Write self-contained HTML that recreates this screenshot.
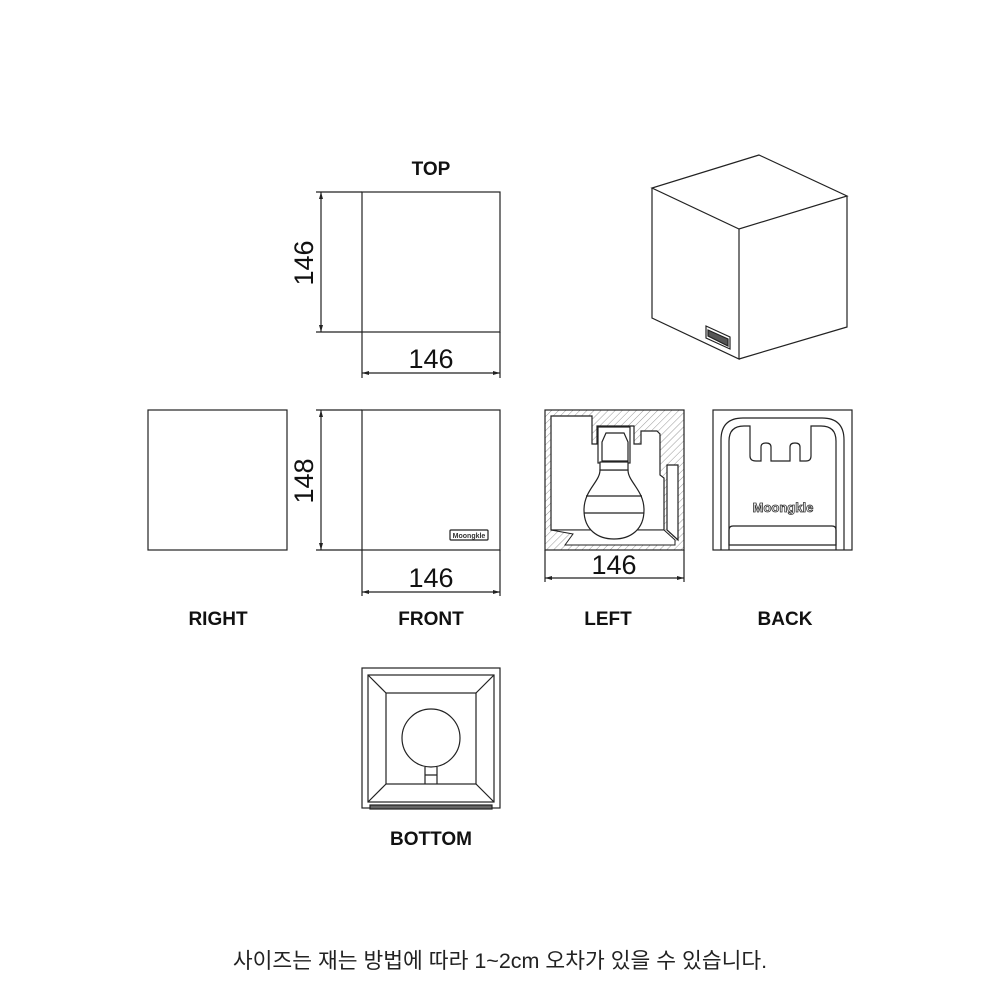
<!DOCTYPE html>
<html><head><meta charset="utf-8"><style>
html,body{margin:0;padding:0;background:#fff;}
svg{display:block;}
.l{font-family:"Liberation Sans",sans-serif;font-weight:bold;font-size:19px;fill:#111;text-anchor:middle;}
.d{font-family:"Liberation Sans",sans-serif;font-size:27px;fill:#111;text-anchor:middle;}
</style></head><body>
<svg width="1000" height="1000" viewBox="0 0 1000 1000" xmlns="http://www.w3.org/2000/svg">
<defs>
<pattern id="h" width="5" height="5" patternUnits="userSpaceOnUse" patternTransform="rotate(45)">
<line x1="0" y1="0" x2="0" y2="5" stroke="#999" stroke-width="1"/></pattern>
</defs>
<g fill="none" stroke="#222" stroke-width="1.2">
<!-- TOP -->
<rect x="362" y="192" width="138" height="140"/>
<line x1="316" y1="192" x2="362" y2="192"/><line x1="316" y1="332" x2="362" y2="332"/>
<line x1="321" y1="192" x2="321" y2="332"/>
<line x1="362" y1="332" x2="362" y2="378"/><line x1="500" y1="332" x2="500" y2="378"/>
<line x1="362" y1="373" x2="500" y2="373"/>
<!-- FRONT -->
<rect x="362" y="410" width="138" height="140"/>
<rect x="450" y="530" width="38" height="10" rx="1"/>
<line x1="316" y1="410" x2="362" y2="410"/><line x1="316" y1="550" x2="362" y2="550"/>
<line x1="321" y1="410" x2="321" y2="550"/>
<line x1="362" y1="550" x2="362" y2="596"/><line x1="500" y1="550" x2="500" y2="596"/>
<line x1="362" y1="592" x2="500" y2="592"/>
<!-- RIGHT -->
<rect x="148" y="410" width="139" height="140"/>
<!-- LEFT -->
<rect x="545" y="410" width="139" height="140" fill="url(#h)"/>
<path d="M551 416 H592 V444 H597 V426 H634 V444 H641 V431 H657 L660 434 V475 L664 478 V530 H551 Z" fill="#fff"/>
<path d="M667 465 H678 V540 L667 530 Z" fill="#fff"/>
<path d="M551 530 H664 L675 540 V545 H565 L573 534 Z" fill="#fff" stroke-width="1"/>
<rect x="598" y="427" width="32" height="36" fill="#fff"/>
<path d="M606 433 H624 L628 442 V461 H602 V442 Z"/>
<path d="M600 470 H628 C628 482 644 490 644 510 C644 530 630 539 614 539 C598 539 584 530 584 510 C584 490 600 482 600 470 Z" fill="#fff"/>
<rect x="600" y="462" width="28" height="8" fill="#fff"/>
<line x1="586" y1="496" x2="642" y2="496"/><line x1="584" y1="513" x2="644" y2="513"/>
<line x1="545" y1="550" x2="545" y2="582"/><line x1="684" y1="550" x2="684" y2="582"/>
<line x1="545" y1="578" x2="684" y2="578"/>
<!-- BACK -->
<rect x="713" y="410" width="139" height="140"/>
<path d="M721 550 V440 Q721 418 743 418 H822 Q844 418 844 440 V550"/>
<path d="M729 550 V441 Q729 426 744 426 H750 V456 Q750 461 756 461 H761 V447 Q761 443 766 443 Q771 443 771 447 V461 H790 V447 Q790 443 795 443 Q800 443 800 447 V461 H806 Q811 461 811 456 V426 H821 Q836 426 836 441 V550"/>
<path d="M729 530 Q729 526 733 526 H832 Q836 526 836 530 V545 H729 Z"/>
<!-- BOTTOM -->
<rect x="362" y="668" width="138" height="140"/>
<rect x="368" y="675" width="126" height="127"/>
<rect x="386" y="693" width="90" height="91"/>
<line x1="368" y1="675" x2="386" y2="693"/><line x1="494" y1="675" x2="476" y2="693"/>
<line x1="368" y1="802" x2="386" y2="784"/><line x1="494" y1="802" x2="476" y2="784"/>
<circle cx="431" cy="738" r="29" fill="#fff"/>
<path d="M425 767 V784 M437 767 V784 M425 775 H437"/>
<rect x="370" y="805" width="122" height="4" fill="#666"/>
<!-- CUBE -->
<path d="M759 155 L652 188 L739 229 L847 196 Z"/>
<path d="M652 188 V318 L739 359 V229 M739 359 L847 327 V196"/>
<path d="M706 326 L730 337 V349 L706 338 Z"/>
<path d="M708 330 L728 339 V346 L708 336 Z" fill="#555"/>
</g>
<g fill="#222">
<path d="M321 192 l-2 7 h4z M321 332 l-2 -7 h4z M362 373 l7 -2 v4z M500 373 l-7 -2 v4z"/>
<path d="M321 410 l-2 7 h4z M321 550 l-2 -7 h4z M362 592 l7 -2 v4z M500 592 l-7 -2 v4z"/>
<path d="M545 578 l7 -2 v4z M684 578 l-7 -2 v4z"/>
</g>
<text x="783" y="512" font-family="Liberation Sans,sans-serif" font-size="13" font-weight="bold" fill="#fff" stroke="#333" stroke-width="0.8" text-anchor="middle">Moongkle</text>
<text x="469" y="538" font-family="Liberation Sans,sans-serif" font-size="7" font-weight="bold" fill="#333" text-anchor="middle">Moongkle</text>
<text class="d" x="431" y="368">146</text>
<text class="d" x="431" y="587">146</text>
<text class="d" x="614" y="574">146</text>
<text class="d" transform="translate(313,263) rotate(-90)">146</text>
<text class="d" transform="translate(313,481) rotate(-90)">148</text>
<text class="l" x="431" y="175">TOP</text>
<text class="l" x="218" y="625">RIGHT</text>
<text class="l" x="431" y="625">FRONT</text>
<text class="l" x="608" y="625">LEFT</text>
<text class="l" x="785" y="625">BACK</text>
<text class="l" x="431" y="845">BOTTOM</text>
<text x="500" y="968" font-family="Liberation Sans,'Noto Sans CJK KR',sans-serif" font-size="21.5" fill="#222" text-anchor="middle">사이즈는 재는 방법에 따라 1~2cm 오차가 있을 수 있습니다.</text>
</svg>
</body></html>
